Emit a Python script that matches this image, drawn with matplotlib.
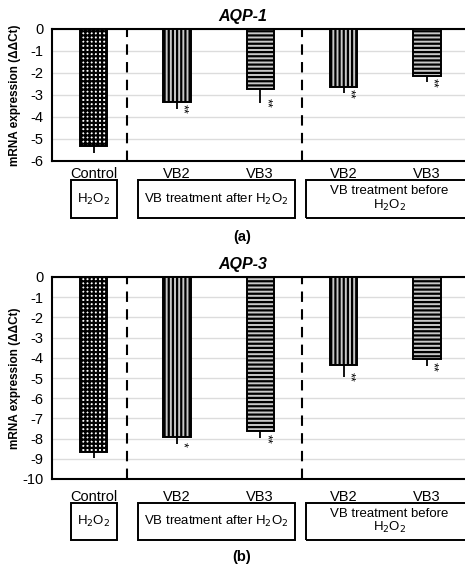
import matplotlib
matplotlib.use("Agg")
import matplotlib.pyplot as plt
import matplotlib.transforms as mtransforms
from matplotlib.patches import Rectangle

plt.rcParams['font.family'] = ['Liberation Sans', 'DejaVu Sans']
plt.rcParams['hatch.linewidth'] = 1.6
plt.rcParams['axes.unicode_minus'] = False

labels = ['Control', 'VB2', 'VB3', 'VB2', 'VB3']
aqp1 = [-5.32, -3.30, -2.73, -2.62, -2.12]
aqp1_err = [0.30, 0.32, 0.62, 0.28, 0.30]
aqp1_sig = ['', '**', '**', '**', '**']
aqp3 = [-8.65, -7.92, -7.62, -4.34, -4.06]
aqp3_err = [0.33, 0.35, 0.35, 0.59, 0.35]
aqp3_sig = ['', '*', '**', '**', '**']

hatches = ['++++', '||||', '----', '||||', '----']
faces = ['white', '#c8c8c8', '#c8c8c8', '#c8c8c8', '#c8c8c8']

W, H = 465, 566
fig = plt.figure(figsize=(W / 100, H / 100), dpi=100)


def panel(top, bottom, vals, err, sig, ymin, title, tag, lab_pad, box_top, box_bot, tag_y):
    ax = fig.add_axes([52 / W, 1 - bottom / H, 416.5 / W, (bottom - top) / H])
    x = list(range(len(vals)))
    ax.bar(x, vals, width=0.33, color=faces, edgecolor='black', linewidth=1.4,
           hatch=hatches, zorder=3)
    ax.errorbar(x, vals, yerr=[err, [0] * len(err)], fmt='none', ecolor='black',
                elinewidth=1.3, capsize=0, zorder=2)
    for xi, v, e, s in zip(x, vals, err, sig):
        if s:
            ax.text(xi + 0.07, v - e - 0.03, s, rotation=270, ha='center', va='center',
                    fontsize=9)
    for xd in [0.4, 2.5]:
        ax.axvline(xd, color='black', linestyle=(0, (5, 3.5)), linewidth=1.5, zorder=4)
    ax.set_xlim(-0.5, 4.5)
    ax.set_ylim(ymin, 0)
    ax.set_yticks(range(ymin, 1))
    ax.set_xticks(x)
    ax.set_xticklabels(labels, fontsize=10.5)
    ax.tick_params(axis='x', length=0, pad=lab_pad)
    ax.tick_params(axis='y', length=0, pad=6, labelsize=10.5)
    ax.grid(axis='y', color='#dcdcdc', linewidth=1, zorder=0)
    for sp in ax.spines.values():
        sp.set_linewidth(1.5)
    ax.set_ylabel('mRNA expression (ΔΔCt)', fontsize=8.5, fontweight='bold')
    ax.yaxis.set_label_coords((21 - 52) / 416.5, 0.5)

    fig.text(243 / W, 1 - (top - 12) / H, title, ha='center', va='center',
             fontsize=11.5, fontweight='bold', fontstyle='italic')

    tr = mtransforms.blended_transform_factory(ax.transData, fig.transFigure)
    y0 = 1 - box_bot / H
    h = (box_bot - box_top) / H
    boxes = [(-0.27, 0.28, 'H$_2$O$_2$'),
             (0.53, 2.42, 'VB treatment after H$_2$O$_2$'),
             (2.55, 4.55, 'VB treatment before\nH$_2$O$_2$')]
    for a, b, t in boxes:
        fig.add_artist(Rectangle((a, y0), b - a, h, transform=tr, fill=False,
                                 edgecolor='black', linewidth=1.4, clip_on=False))
        fig.text((a + b) / 2, y0 + h / 2, t, transform=tr, ha='center', va='center',
                 fontsize=9.5, linespacing=1.0)
    fig.text(242 / W, 1 - tag_y / H, tag, ha='center', va='center',
             fontsize=10.5, fontweight='bold')
    return ax


panel(29, 161, aqp1, aqp1_err, aqp1_sig, -6, 'AQP-1', '(a)', 4, 180, 218, 237)
panel(277, 479, aqp3, aqp3_err, aqp3_sig, -10, 'AQP-3', '(b)', 8, 503, 540, 557)

fig.savefig('out.png', dpi=100)
